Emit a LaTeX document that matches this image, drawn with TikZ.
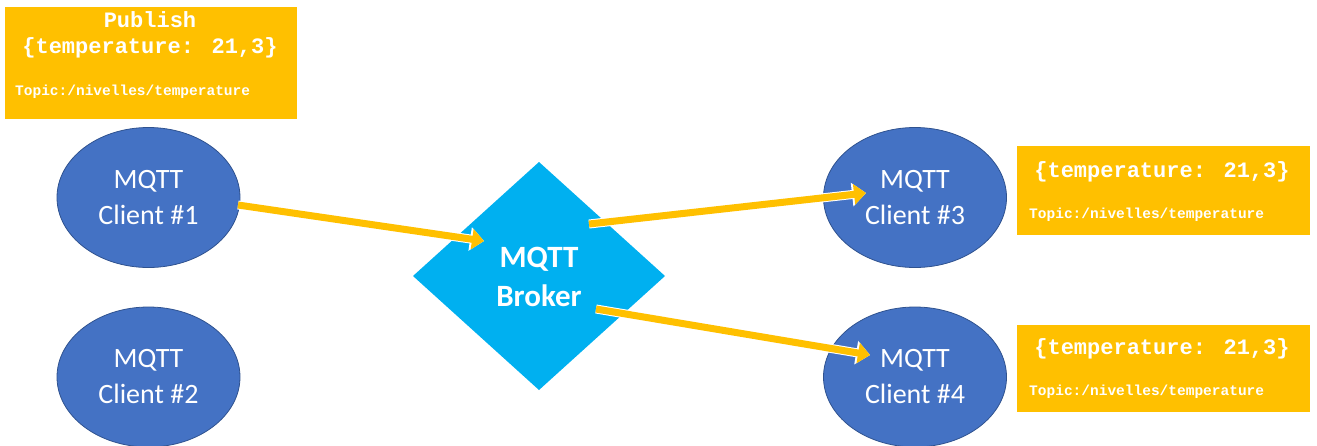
\documentclass[tikz,border=0pt]{standalone}
\usepackage{fontspec}
\setmainfont{Carlito}
\newfontfamily\mqmono{Liberation Mono}
\usetikzlibrary{arrows.meta,shapes.geometric}
\definecolor{mqorange}{HTML}{FFC000}
\definecolor{mqblue}{HTML}{4472C4}
\definecolor{mqedge}{HTML}{2F528F}
\definecolor{mqcyan}{HTML}{00B0F0}
\tikzset{
  client/.style={ellipse, fill=mqblue, draw=mqedge, line width=0.8pt, minimum width=183pt, minimum height=140pt, inner sep=0pt, text=white, align=center, font=\fontsize{28}{36}\selectfont},
  msgbox/.style={rectangle, fill=mqorange, draw=none, anchor=north west, inner sep=0pt},
  bigmono/.style={text=white, inner sep=0pt, font=\mqmono\bfseries\fontsize{22}{28}\selectfont},
  smallmono/.style={text=white, inner sep=0pt, anchor=west, font=\mqmono\bfseries\fontsize{14.5}{17}\selectfont},
  flow/.style={draw=mqorange, line width=7pt, -{Triangle[width=20pt,length=12pt]},
    preaction={draw=white, line width=9pt, -{Triangle[width=23pt,length=14pt]}}},
}
\begin{document}
\begin{tikzpicture}[x=1pt,y=-1pt]
\useasboundingbox (0,0) rectangle (1317,445);
% broker diamond
\fill[mqcyan] (413,276) -- (539,162) -- (665,276) -- (539,390) -- cycle;
\node[text=white, align=center, inner sep=0pt, font=\bfseries\fontsize{31}{39}\selectfont] (broker) at (539,277) {MQTT\\Broker};
% clients
\node[client] (c1) at (148.5,197.5) {MQTT\\Client \#1};
\node[client] (c2) at (148.5,377) {MQTT\\Client \#2};
\node[client] (c3) at (915,197.5) {MQTT\\Client \#3};
\node[client] (c4) at (915,377) {MQTT\\Client \#4};
% message boxes
\node[msgbox, minimum width=292pt, minimum height=112pt] (b1) at (5,7) {};
\node[bigmono] (b1a) at (150,20) {Publish};
\node[bigmono] (b1b) at (150,48) {\{temperature: 21,3\}};
\node[smallmono] (b1c) at (15,92) {Topic:/nivelles/temperature};
\node[msgbox, minimum width=293pt, minimum height=89pt] (b3) at (1017,146) {};
\node[bigmono] (b3b) at (1162,172) {\{temperature: 21,3\}};
\node[smallmono] (b3c) at (1029,215) {Topic:/nivelles/temperature};
\node[msgbox, minimum width=293pt, minimum height=87pt] (b4) at (1017,325) {};
\node[bigmono] (b4b) at (1162,349) {\{temperature: 21,3\}};
\node[smallmono] (b4c) at (1029,392) {Topic:/nivelles/temperature};
% arrow end points
\coordinate (a1s) at (238,205);
\coordinate (a1e) at (484,241);
\coordinate (a2s) at (589,224);
\coordinate (a2e) at (866,193);
\coordinate (a3s) at (596,309);
\coordinate (a3e) at (870,355);
\draw[flow] (a1s) -- (a1e);
\draw[flow] (a2s) -- (a2e);
\draw[flow] (a3s) -- (a3e);
\end{tikzpicture}
\end{document}
